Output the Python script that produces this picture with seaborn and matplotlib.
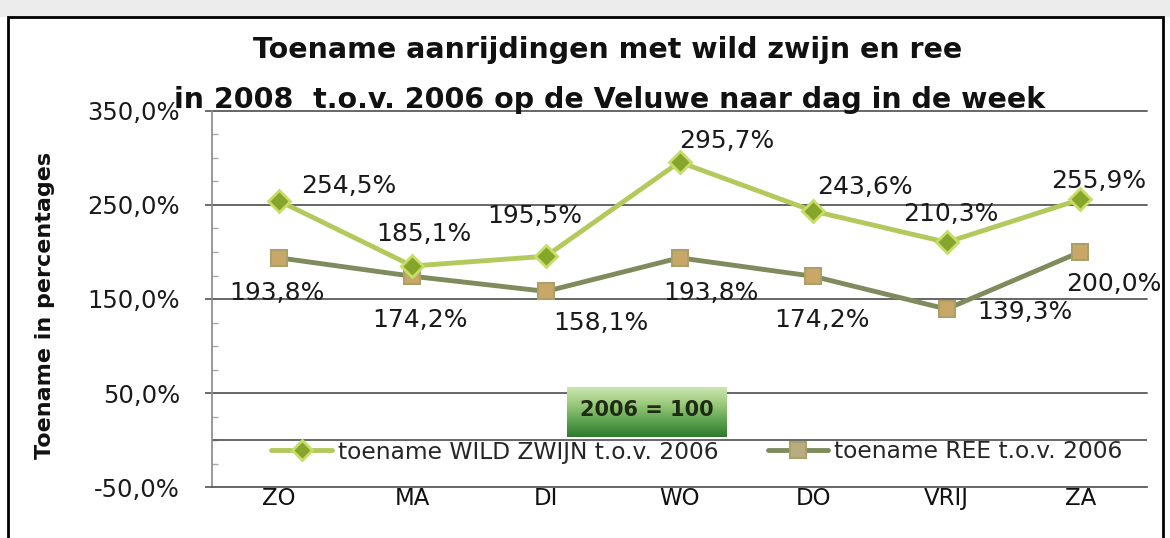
import numpy as np
import pandas as pd
import seaborn as sns
import matplotlib
matplotlib.use("Agg")
import matplotlib.pyplot as plt
from matplotlib.ticker import FuncFormatter, MultipleLocator, FixedLocator
from matplotlib.patches import Rectangle
from matplotlib.lines import Line2D

# ---- data ----
days = ["ZO", "MA", "DI", "WO", "DO", "VRIJ", "ZA"]
wild_zwijn = [254.5, 185.1, 195.5, 295.7, 243.6, 210.3, 255.9]
ree = [193.8, 174.2, 158.1, 193.8, 174.2, 139.3, 200.0]
y_ticks = [-50, 50, 150, 250, 350]
series_names = ["toename WILD ZWIJN t.o.v. 2006", "toename REE t.o.v. 2006"]
title_lines = ["Toename aanrijdingen met wild zwijn en ree",
               "in 2008  t.o.v. 2006 op de Veluwe naar dag in de week"]
ylabel = "Toename in percentages"
box_text = "2006 = 100"

# label offsets in pixels (style)
wild_off = [(70, 15), (12, 32), (-11, 40), (47, 21), (52, 24), (4, 28), (18, 18)]
ree_off = [(-2, -35), (8, -44), (55, -32), (31, -35), (9, -44), (78, -3), (34, -32)]

sns.set_theme(style="white")
FONT = "DejaVu Sans"
plt.rcParams["font.family"] = [FONT]

W, H = 1170, 538
fig = plt.figure(figsize=(W / 100, H / 100), dpi=100)
fig.patch.set_facecolor("white")

# outer decoration
fig.add_artist(Rectangle((0, 1 - 17 / H), 1, 17 / H, transform=fig.transFigure,
                         facecolor="#ececec", edgecolor="none", zorder=0))
fig.add_artist(Rectangle((8 / W, -0.02), 1155 / W, 1 - 17 / H + 0.02,
                         transform=fig.transFigure, facecolor="white",
                         edgecolor="black", linewidth=2.0, zorder=0))

ax = fig.add_axes([212 / W, 1 - 487 / H, (1147 - 212) / W, (487 - 111) / H])
ax.set_facecolor("none")

df = pd.DataFrame({"dag": days * 2,
                   "waarde": wild_zwijn + ree,
                   "reeks": [series_names[0]] * 7 + [series_names[1]] * 7})
df["x"] = list(range(7)) * 2

wild_line = "#b3c95c"
ree_line = "#7f8a5d"
sns.lineplot(data=df[df.reeks == series_names[0]], x="x", y="waarde", ax=ax,
             color=wild_line, linewidth=3.5, marker="D", markersize=11,
             markerfacecolor="#86a52a", markeredgecolor="#c6dd6a",
             markeredgewidth=2, legend=False, zorder=4)
sns.lineplot(data=df[df.reeks == series_names[1]], x="x", y="waarde", ax=ax,
             color=ree_line, linewidth=3.5, marker="s", markersize=12,
             markerfacecolor="#c9a867", markeredgecolor="#a9a06a",
             markeredgewidth=1.5, legend=False, zorder=3)

ax.set_xlim(-0.5, 6.5)
ax.set_ylim(-50, 350)
ax.set_xticks(range(7))
ax.set_xticklabels(days)
ax.yaxis.set_major_locator(FixedLocator(y_ticks))
ax.yaxis.set_minor_locator(MultipleLocator(25))
ax.yaxis.set_major_formatter(FuncFormatter(lambda v, p: f"{v:.1f}%".replace(".", ",")))
ax.set_xlabel("")
ax.set_ylabel("")

for yv in y_ticks[1:]:
    ax.axhline(yv, color="#5a5a5a", linewidth=1.3, zorder=1, clip_on=False)
ax.axhline(0, color="#5a5a5a", linewidth=1.3, zorder=1)

for s in ["top", "right"]:
    ax.spines[s].set_visible(False)
ax.spines["left"].set_color("#8c8c8c")
ax.spines["bottom"].set_color("#5a5a5a")
ax.spines["bottom"].set_linewidth(1.3)

ax.tick_params(axis="y", which="major", length=5, color="#5a5a5a", labelsize=17.5,
               labelcolor="#1a1a1a", pad=18, direction="out", left=True)
ax.tick_params(axis="y", which="minor", length=4, color="#aaaaaa", direction="in", left=True)
ax.tick_params(axis="x", length=0, labelsize=16.5, labelcolor="#111111", pad=0)

for i, v in enumerate(wild_zwijn):
    ax.annotate(f"{v:.1f}%".replace(".", ","), (i, v), xytext=wild_off[i],
                textcoords="offset pixels", ha="center", va="center",
                fontsize=18, color="#1a1a1a", zorder=6)
for i, v in enumerate(ree):
    ax.annotate(f"{v:.1f}%".replace(".", ","), (i, v), xytext=ree_off[i],
                textcoords="offset pixels", ha="center", va="center",
                fontsize=18, color="#1a1a1a", zorder=6)

# y label
fig.text(45 / W, 1 - 305 / H, ylabel, rotation=90, ha="center", va="center",
         fontsize=16, fontweight="bold", color="#111111")

# titles
fig.text(608 / W, 1 - 50 / H, title_lines[0], ha="center", va="center",
         fontsize=20.5, fontweight="bold", color="#111111")
fig.text(610 / W, 1 - 100 / H, title_lines[1], ha="center", va="center",
         fontsize=20.5, fontweight="bold", color="#111111")

# green box "2006 = 100"
bax = fig.add_axes([567 / W, 1 - 437 / H, 160 / W, 50 / H])
grad = np.linspace(0, 1, 100).reshape(-1, 1)
cmap = matplotlib.colors.LinearSegmentedColormap.from_list(
    "g", ["#cde6b2", "#9cc97c", "#5ea552", "#2f7a2c"])
bax.imshow(grad, aspect="auto", cmap=cmap, extent=[0, 1, 0, 1], origin="upper")
bax.set_xlim(0, 1); bax.set_ylim(0, 1)
bax.axis("off")
bax.text(0.5, 0.55, box_text, ha="center", va="center", fontsize=15,
         fontweight="bold", color="#1d2a14")

# legend
handles = [Line2D([], [], color=wild_line, linewidth=3.5, marker="D", markersize=10,
                  markerfacecolor="#86a52a", markeredgecolor="#c6dd6a", markeredgewidth=2),
           Line2D([], [], color=ree_line, linewidth=3.5, marker="s", markersize=11,
                  markerfacecolor="#b7ad80", markeredgecolor="#a9a06a", markeredgewidth=1.5)]
fig.legend(handles, series_names, loc="center", bbox_to_anchor=(697 / W, 1 - 452 / H),
           ncol=2, frameon=False, fontsize=16.8, handlelength=2.6, handletextpad=0.25,
           columnspacing=2.1, borderpad=0.1)

fig.savefig("out.png", dpi=100)
